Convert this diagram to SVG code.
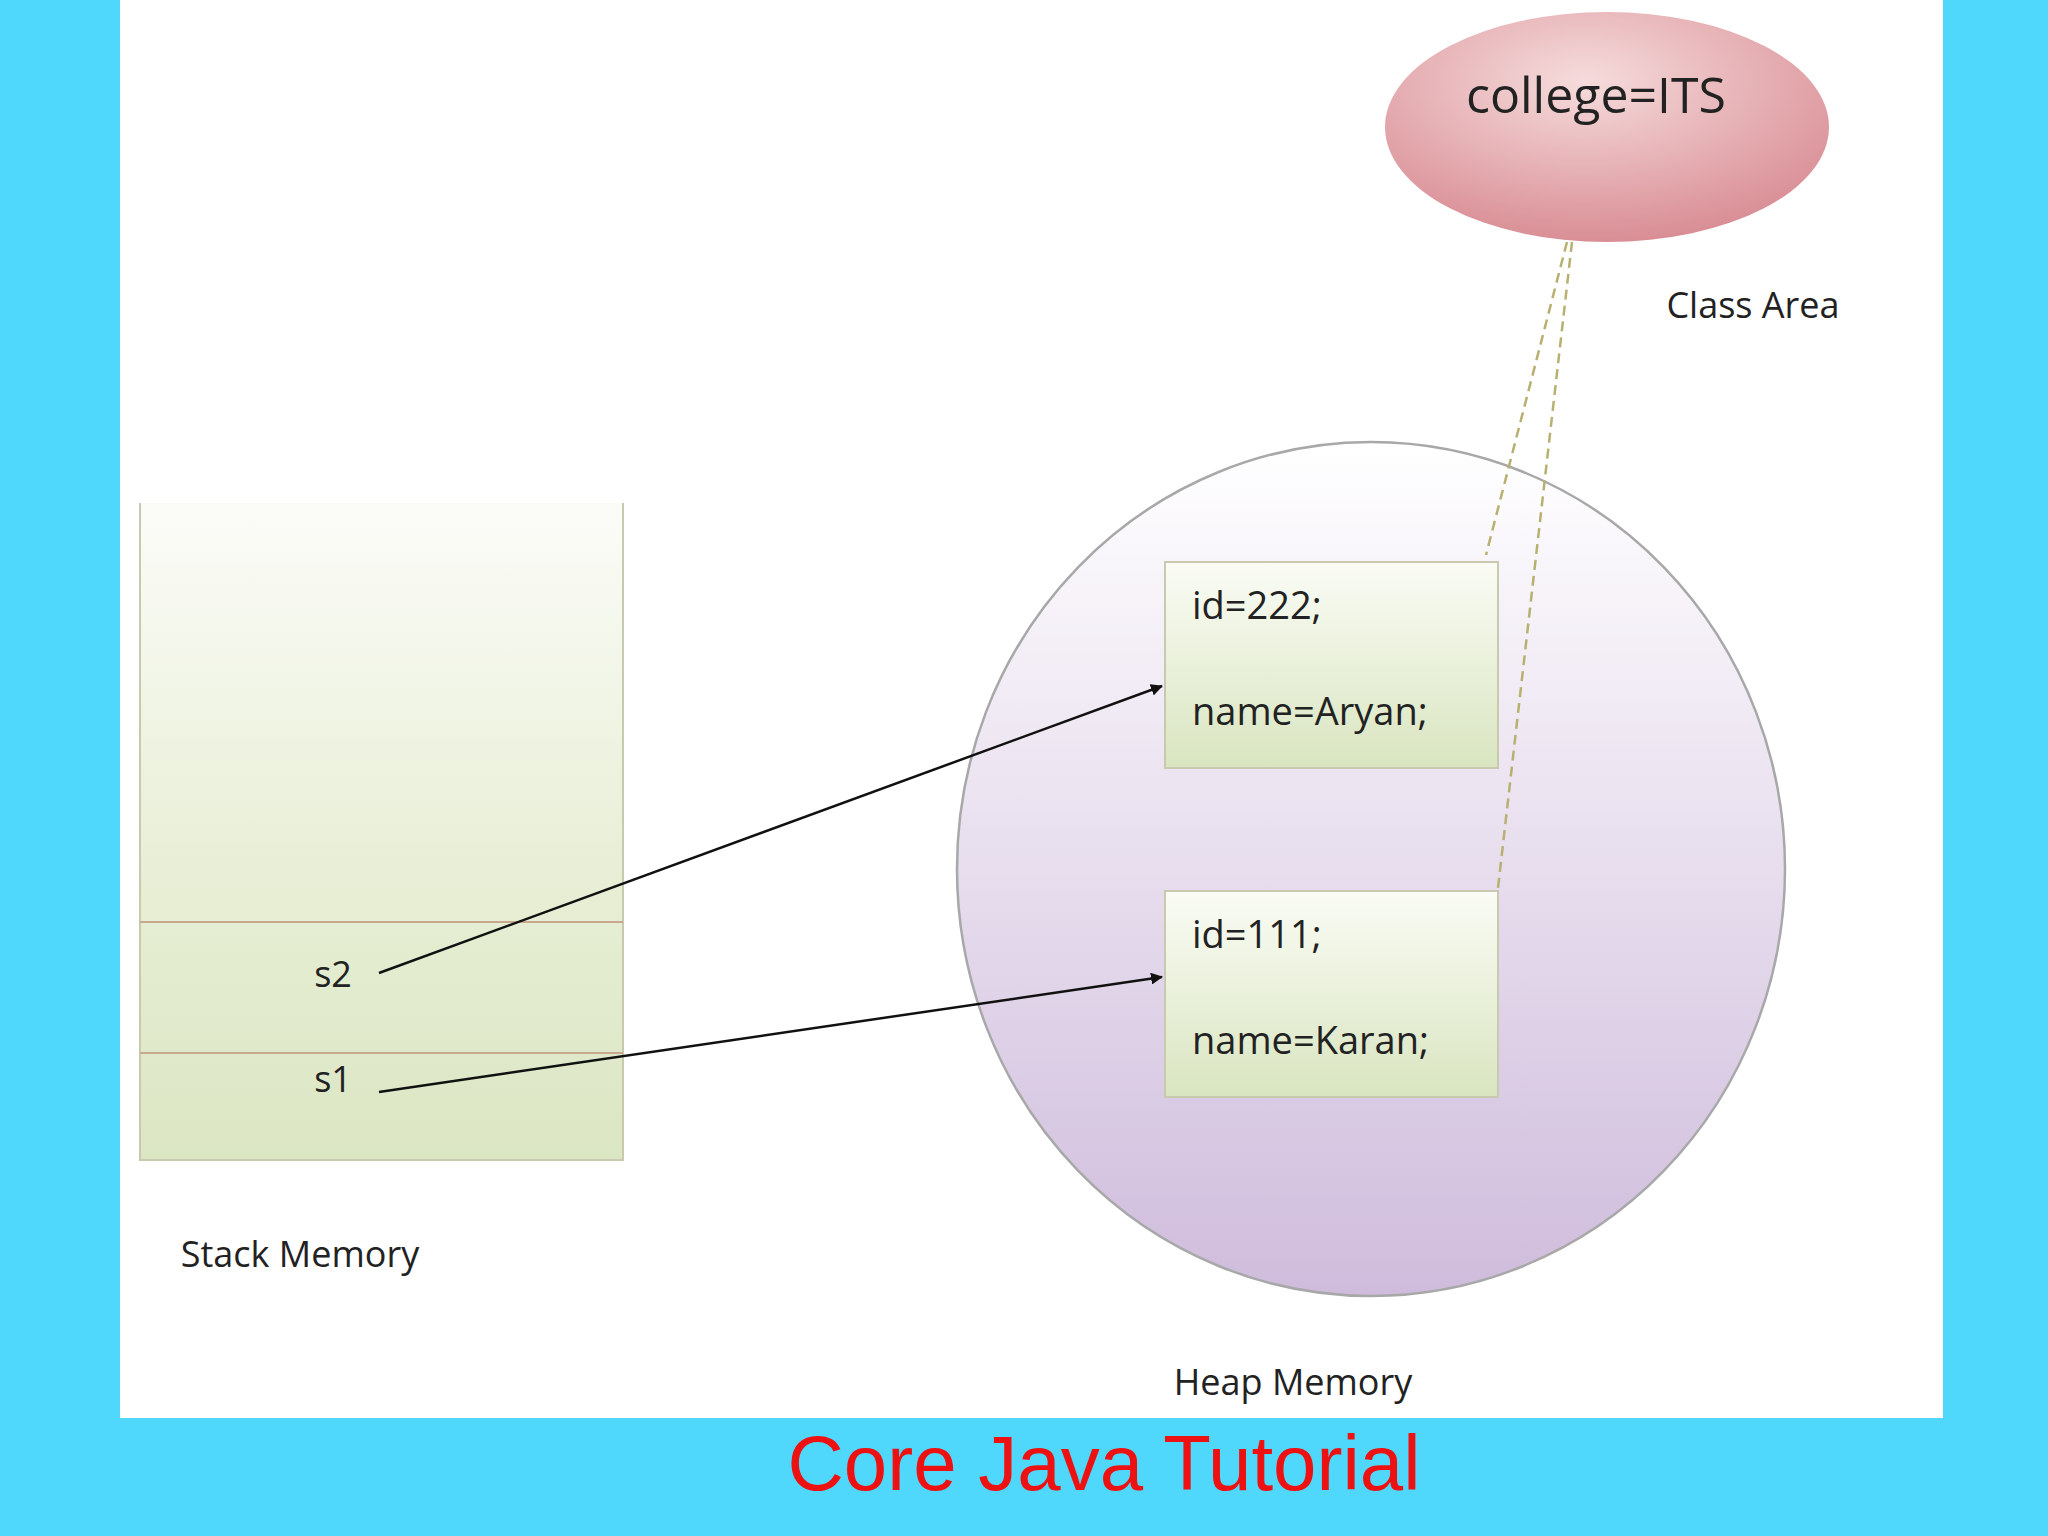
<svg xmlns="http://www.w3.org/2000/svg" width="2048" height="1536" viewBox="0 0 2048 1536">
<defs>
<style>
.t{font-family:"Open Sans","DejaVu Sans",sans-serif;fill:#222}
.b{fill:url(#gb);stroke:#c9c9b0;stroke-width:2}
.a{stroke:#111;stroke-width:2.5;fill:none;marker-end:url(#ah)}
.d{stroke:#b8b070;stroke-width:2.5;stroke-dasharray:10 6;fill:none}
</style>
<linearGradient id="gs" x1="0" y1="0" x2="0" y2="1"><stop offset="0" stop-color="#fbfcf8"/><stop offset="0.55" stop-color="#e8efd6"/><stop offset="1" stop-color="#dbe6c3"/></linearGradient>
<linearGradient id="gb" x1="0" y1="0" x2="0" y2="1"><stop offset="0" stop-color="#fafcf5"/><stop offset="1" stop-color="#d9e5c0"/></linearGradient>
<linearGradient id="gh" x1="0" y1="0" x2="0" y2="1"><stop offset="0" stop-color="#ffffff"/><stop offset="1" stop-color="#cfbcdc"/></linearGradient>
<radialGradient id="ge" cx="0.45" cy="0.3" r="0.7"><stop offset="0" stop-color="#f6dcdc"/><stop offset="1" stop-color="#d98e95"/></radialGradient>
<marker id="ah" markerWidth="12" markerHeight="12" refX="11" refY="6" orient="auto" markerUnits="userSpaceOnUse"><path d="M0,0 L12,6 L0,12 z" fill="#111"/></marker>
</defs>
<rect width="2048" height="1536" fill="#50d8fc"/>
<rect x="120" y="0" width="1823" height="1418" fill="#ffffff"/>
<g id="stack">
<path d="M140,503 L140,1160 L623,1160 L623,503" fill="url(#gs)" stroke="#c9c9b0" stroke-width="2"/>
<line x1="140" y1="922" x2="623" y2="922" stroke="#c9a890" stroke-width="2"/>
<line x1="140" y1="1053" x2="623" y2="1053" stroke="#c9a890" stroke-width="2"/>
<text class="t" x="333" y="987" font-size="36" text-anchor="middle">s2</text>
<text class="t" x="333" y="1092" font-size="36" text-anchor="middle">s1</text>
<text class="t" x="300" y="1267" font-size="36" text-anchor="middle">Stack Memory</text>
</g>
<g id="heap">
<ellipse cx="1371" cy="869" rx="414" ry="427" fill="url(#gh)" stroke="#a8a8a8" stroke-width="2.5"/>
<text class="t" x="1293" y="1395" font-size="36" text-anchor="middle">Heap Memory</text>
</g>
<g id="classarea">
<ellipse cx="1607" cy="127" rx="222" ry="115" fill="url(#ge)"/>
<text class="t" x="1596" y="113" font-size="50" text-anchor="middle">college=ITS</text>
<text class="t" x="1753" y="318" font-size="36" text-anchor="middle">Class Area</text>
</g>
<g id="obj1">
<rect class="b" x="1165" y="562" width="333" height="206"/>
<text class="t" x="1192" y="619" font-size="38">id=222;</text>
<text class="t" x="1192" y="725" font-size="38">name=Aryan;</text>
</g>
<g id="obj2">
<rect class="b" x="1165" y="891" width="333" height="206"/>
<text class="t" x="1192" y="948" font-size="38">id=111;</text>
<text class="t" x="1192" y="1054" font-size="38">name=Karan;</text>
</g>
<g id="connectors">
<line class="a" x1="379" y1="973" x2="1162" y2="686"/>
<line class="a" x1="379" y1="1092" x2="1162" y2="977"/>
<line class="d" x1="1567" y1="242" x2="1486" y2="555"/>
<line class="d" x1="1572" y1="242" x2="1498" y2="888"/>
</g>
<text x="1104" y="1490" font-family="Liberation Sans,Arial,sans-serif" font-size="78" fill="#ee1111" text-anchor="middle">Core Java Tutorial</text>
</svg>
